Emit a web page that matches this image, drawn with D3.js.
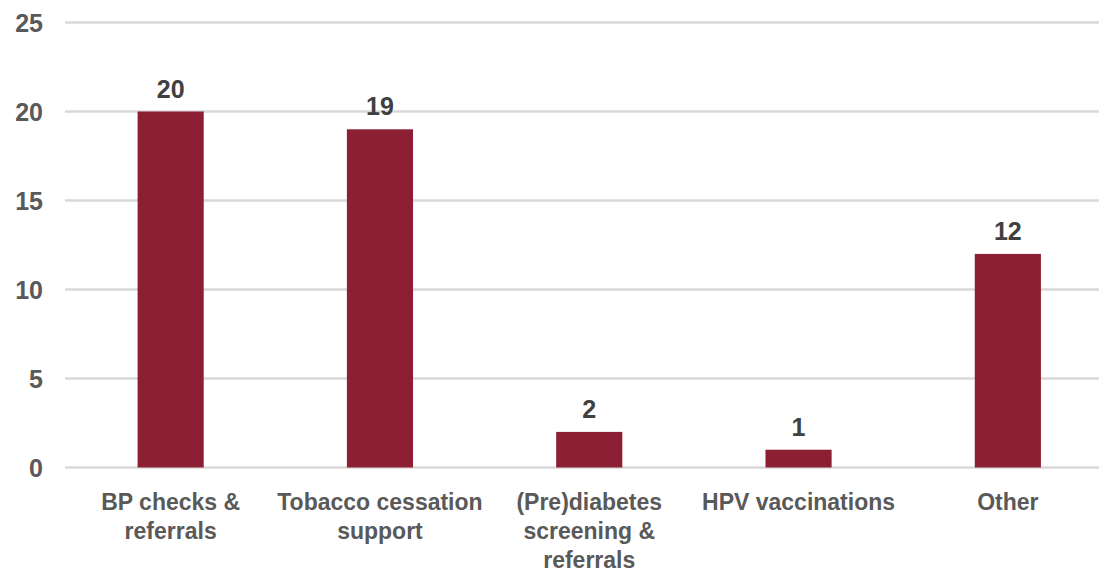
<!DOCTYPE html>
<html>
<head>
<meta charset="utf-8">
<script src="https://cdn.jsdelivr.net/npm/d3@7"></script>
<style>
  html, body { margin: 0; padding: 0; background: #ffffff; }
  svg { display: block; }
</style>
</head>
<body>
<div id="chart"></div>
<script>
const categories = ["BP checks & referrals", "Tobacco cessation support", "(Pre)diabetes screening & referrals", "HPV vaccinations", "Other"];
const categoryLines = [["BP checks &", "referrals"], ["Tobacco cessation", "support"], ["(Pre)diabetes", "screening &", "referrals"], ["HPV vaccinations"], ["Other"]];
const values = [20, 19, 2, 1, 12];
const yTicks = [0, 5, 10, 15, 20, 25];

const W = 1099, H = 573;
const svg = d3.select("#chart").append("svg").attr("width", W).attr("height", H);

const x = d3.scaleBand().domain(categories).range([66, 1112.5]).paddingInner(0.684).paddingOuter(0.342);
const y = d3.scaleLinear().domain([0, 25]).range([467.5, 22.5]);

const font = "'Liberation Sans', Arial, sans-serif";

// gridlines
svg.append("g").selectAll("line").data(yTicks).join("line")
  .attr("x1", 65).attr("x2", W)
  .attr("y1", d => y(d)).attr("y2", d => y(d))
  .attr("stroke", "#d9d9d9").attr("stroke-width", 2.5);

// y axis labels via d3 axis
const yAxis = svg.append("g").attr("transform", "translate(43,0)")
  .call(d3.axisLeft(y).tickValues(yTicks).tickSize(0).tickPadding(0).tickFormat(d3.format("d")));
yAxis.select(".domain").remove();
yAxis.selectAll("text")
  .attr("font-family", font).attr("font-size", 25).attr("font-weight", "bold")
  .attr("fill", "#595959").attr("dy", "0.36em");

// bars
svg.append("g").selectAll("rect").data(values).join("rect")
  .attr("x", (d, i) => x(categories[i]))
  .attr("width", x.bandwidth())
  .attr("y", d => y(d))
  .attr("height", d => y(0) - y(d))
  .attr("fill", "#8c1f34");

// value labels
svg.append("g").selectAll("text").data(values).join("text")
  .attr("x", (d, i) => x(categories[i]) + x.bandwidth() / 2)
  .attr("y", d => y(d) - 14)
  .attr("text-anchor", "middle")
  .attr("font-family", font).attr("font-size", 25).attr("font-weight", "bold")
  .attr("fill", "#404040")
  .text(d => d);

// category labels
const cat = svg.append("g").selectAll("text").data(categoryLines).join("text")
  .attr("text-anchor", "middle")
  .attr("font-family", font).attr("font-size", 23).attr("font-weight", "bold")
  .attr("fill", "#595959");
cat.each(function(lines, i) {
  const cx = x(categories[i]) + x.bandwidth() / 2;
  d3.select(this).selectAll("tspan").data(lines).join("tspan")
    .attr("x", cx)
    .attr("y", (l, j) => 510 + j * 29)
    .text(l => l);
});
</script>
</body>
</html>
